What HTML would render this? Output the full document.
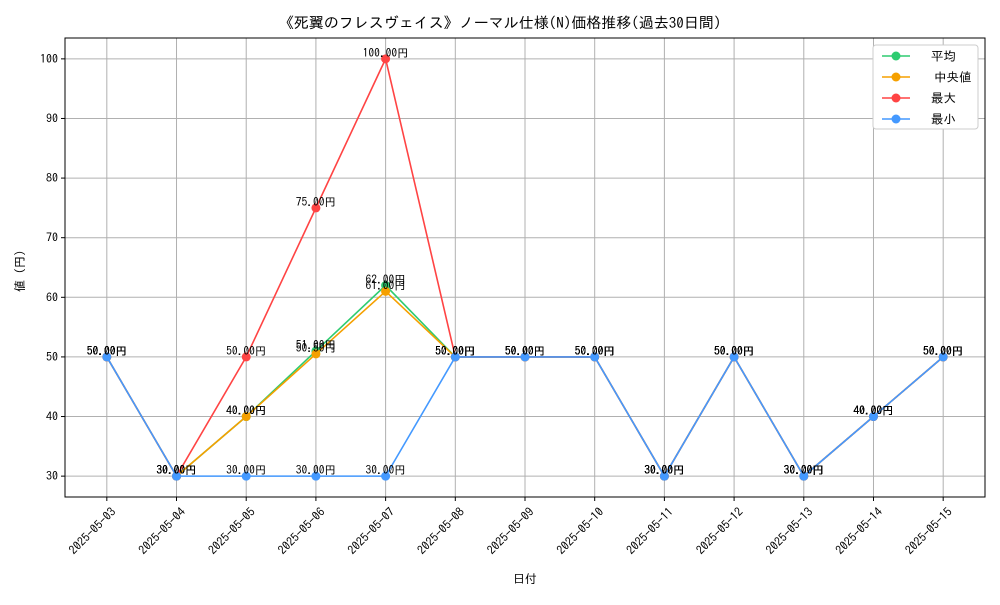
<!DOCTYPE html>
<html><head><meta charset="utf-8"><style>
body{margin:0;background:#fff;}
svg text{font-family:"IPAGothic","Noto Sans CJK JP",sans-serif;}
</style></head><body>
<svg id="c" width="1000" height="600" viewBox="0 0 1000 600" xmlns="http://www.w3.org/2000/svg">
<rect width="1000" height="600" fill="#fff"/>
<text x="500" y="28" text-anchor="middle" font-size="15">《死翼のフレスヴェイス》ノーマル仕様(N)価格推移(過去30日間)</text>
<g id="grid"></g>
<rect x="65" y="38" width="920" height="459" fill="none" stroke="#000" stroke-width="1"/>
<g id="series"></g>
<g id="labels"></g>
<text x="525" y="583" text-anchor="middle" font-size="12">日付</text>
<text transform="translate(24,268) rotate(-90)" text-anchor="middle" font-size="12">値（円）</text>
<g>
<rect x="873" y="45" width="105" height="84" rx="3" fill="#fff" stroke="#ccc"/>
<g id="legend"></g>
</g>
</svg>
<script>
const dates=["2025-05-03","2025-05-04","2025-05-05","2025-05-06","2025-05-07","2025-05-08","2025-05-09","2025-05-10","2025-05-11","2025-05-12","2025-05-13","2025-05-14","2025-05-15"];
const avgVals=[50,30,40,51,62,50,50,50,30,50,30,40,50];
const medianVals=[50,30,40,50.5,61,50,50,50,30,50,30,40,50];
const maxVals=[50,30,50,75,100,50,50,50,30,50,30,40,50];
const minVals=[50,30,30,30,30,50,50,50,30,50,30,40,50];
const yTicks=[30,40,50,60,70,80,90,100];
const seriesNames=["平均","中央値","最大","最小"];
const NS="http://www.w3.org/2000/svg";
const L=65,R=985,T=38,B=497,yMin=26.5,yMax=103.5;
const n=dates.length,pad=0.6;
const xs=i=>L+(i+pad)/(n-1+2*pad)*(R-L);
const ys=v=>B-(v-yMin)/(yMax-yMin)*(B-T);
function mk(tag,attrs,parent){const e=document.createElementNS(NS,tag);for(const k in attrs)e.setAttribute(k,attrs[k]);parent.appendChild(e);return e;}
const grid=document.getElementById('grid');
dates.forEach((d,i)=>{
  const x=xs(i);
  const gl=mk('line',{x1:x,x2:x,y1:T,y2:B,stroke:'#b0b0b0','stroke-width':1},grid);
  
  
  const tk=mk('line',{x1:x,x2:x,y1:B,y2:B+4,stroke:'#000'},grid);
  
  
  const t=mk('text',{transform:`translate(${x+4},${B+10}) rotate(-45)`,'text-anchor':'end','font-size':12,'dominant-baseline':'hanging'},grid);
  t.textContent=d;
  
  
});
yTicks.forEach(v=>{
  const y=ys(v);
  const gl=mk('line',{x1:L,x2:R,y1:y,y2:y,stroke:'#b0b0b0','stroke-width':1},grid);
  
  
  const tk=mk('line',{x1:L-4,x2:L,y1:y,y2:y,stroke:'#000'},grid);
  
  
  const t=mk('text',{x:L-7,y:y+4,'text-anchor':'end','font-size':12},grid);
  t.textContent=v;
  
  
});
const allSeries=[avgVals,medianVals,maxVals,minVals];
const colors=["#2ecc71","#f5a000","#ff4444","#4499ff"];
const keys=["avg","median","max","min"];
const sg=document.getElementById('series'),lg=document.getElementById('labels'),leg=document.getElementById('legend');
allSeries.forEach((vals,s)=>{
  const g=mk('g',{},sg);
  
  
  const p=mk('polyline',{points:vals.map((v,i)=>xs(i)+','+ys(v)).join(' '),fill:'none',stroke:colors[s],'stroke-width':1.6},g);
  
  
  vals.forEach((v,i)=>{
    const c=mk('circle',{cx:xs(i),cy:ys(v),r:4.5,fill:colors[s]},g);
    
    
    const t=mk('text',{x:xs(i),y:ys(v)-2,'text-anchor':'middle','font-size':11.5},lg);
    t.textContent=v.toFixed(2)+'円';
    
    
  });
  const ly=56+s*21;
  const ll=mk('line',{x1:882,x2:910,y1:ly,y2:ly,stroke:colors[s],'stroke-width':1.6},leg);
  
  
  const lc=mk('circle',{cx:896,cy:ly,r:4.5,fill:colors[s]},leg);
  
  
  const lt=mk('text',{x:s===1?934:931,y:ly+4.5,'font-size':12.5},leg);
  lt.textContent=seriesNames[s];
  
  
});
</script>
</body></html>
